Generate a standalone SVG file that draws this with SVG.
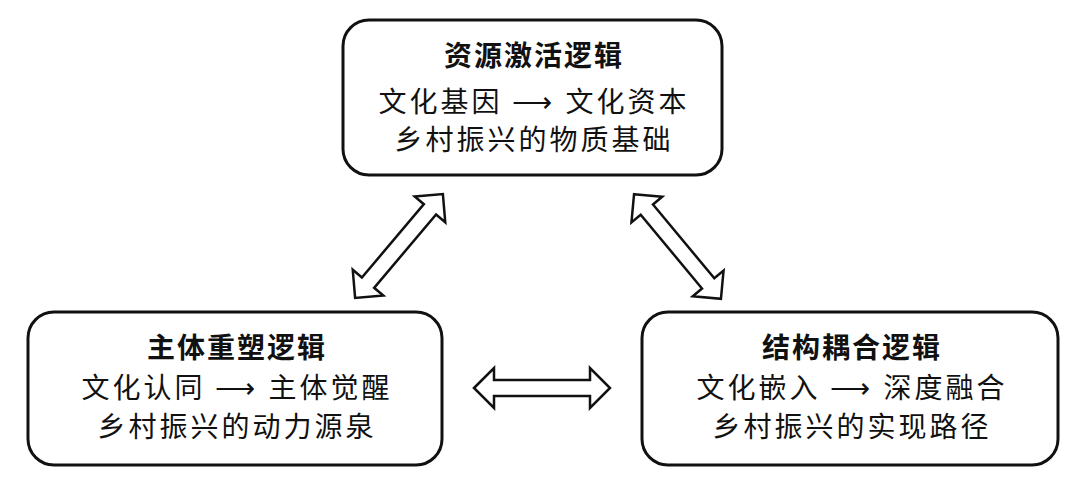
<svg xmlns="http://www.w3.org/2000/svg" width="1080" height="490" viewBox="0 0 1080 490">
<style>
.box{fill:#fff;stroke:#111;stroke-width:3}
.arr{fill:#fff;stroke:#111;stroke-width:2.5;stroke-linejoin:miter}
text{font-family:"Liberation Serif","Noto Sans CJK SC",serif;font-size:28px;letter-spacing:3px;fill:#111;text-anchor:middle}
.t{font-weight:bold;letter-spacing:2px}
</style>
<defs>
<polygon id="da" points="-68,0 -48,-20 -48,-8 48,-8 48,-20 68,0 48,20 48,8 -48,8 -48,20"/>
</defs>
<rect width="1080" height="490" fill="#fff"/>
<g id="connectors">
<use href="#da" class="arr" transform="translate(542,388)"/>
<use href="#da" class="arr" transform="translate(399,246) rotate(-49.8)"/>
<use href="#da" class="arr" transform="translate(677.5,246.5) rotate(50.3)"/>
</g>
<g id="top">
<rect class="box" x="343" y="20" width="379" height="155" rx="26"/>
<text class="t" x="534" y="66">资源激活逻辑</text>
<text x="534" y="112">文化基因 ⟶ 文化资本</text>
<text x="534" y="150">乡村振兴的物质基础</text>
</g>
<g id="left">
<rect class="box" x="28" y="312" width="414" height="153" rx="26"/>
<text class="t" x="237" y="358">主体重塑逻辑</text>
<text x="237" y="398">文化认同 ⟶ 主体觉醒</text>
<text x="237" y="437">乡村振兴的动力源泉</text>
</g>
<g id="right">
<rect class="box" x="642" y="312" width="416" height="153" rx="26"/>
<text class="t" x="852" y="358">结构耦合逻辑</text>
<text x="852" y="398">文化嵌入 ⟶ 深度融合</text>
<text x="852" y="437">乡村振兴的实现路径</text>
</g>
</svg>
